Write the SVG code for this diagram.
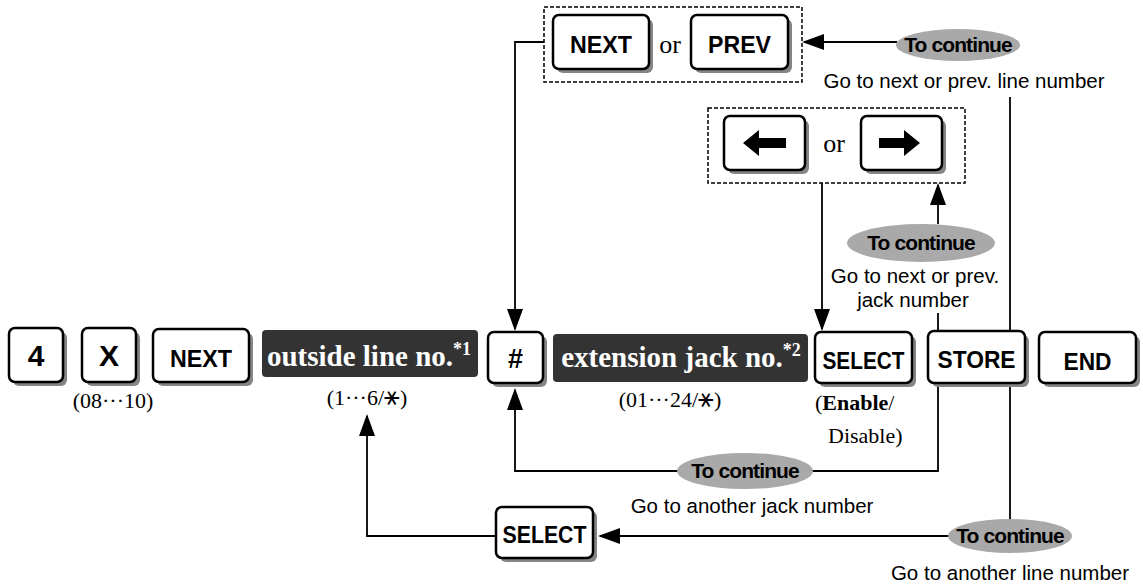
<svg xmlns="http://www.w3.org/2000/svg" width="1143" height="586" viewBox="0 0 1143 586">
<style>
.key{fill:#fff;stroke:#000;stroke-width:2.5}
.sh{fill:#858585}
.kl{font-family:"Liberation Sans",Arial,sans-serif;font-weight:bold;font-size:24px;text-anchor:middle;fill:#000}
.big{font-size:30px}
.hash{font-size:27px}
.dark{fill:#333}
.dl{font-family:"Liberation Serif","Times New Roman",serif;font-weight:bold;font-size:29px;fill:#fff;text-anchor:middle}
.sub{font-family:"Liberation Serif","Times New Roman","DejaVu Serif",serif;font-size:22px;fill:#000}
.or{font-family:"Liberation Serif","Times New Roman",serif;font-size:26px;fill:#000;text-anchor:middle}
.ell{fill:#a9a9a9}
.tc{font-family:"Liberation Sans",Arial,sans-serif;font-weight:bold;font-size:21px;letter-spacing:-0.9px;text-anchor:middle;fill:#000}
.go{font-family:"Liberation Sans",Arial,sans-serif;font-size:20.5px;fill:#000;text-anchor:middle}
.dash{fill:none;stroke:#000;stroke-width:1.5;stroke-dasharray:4 2}
.ln{fill:none;stroke:#000;stroke-width:1.8}
.sym{font-family:"DejaVu Sans",sans-serif;font-size:26px}
</style>
<defs>
<marker id="ah" markerUnits="userSpaceOnUse" markerWidth="22" markerHeight="16" refX="20" refY="8" orient="auto">
<path d="M0,0 L22,8 L0,16 Z" fill="#000"/>
</marker>
</defs>
<rect width="1143" height="586" fill="#fff"/>

<g id="connectors">
<polyline class="ln" points="544,42 515,42 515,329" marker-end="url(#ah)"/>
<line class="ln" x1="897" y1="42" x2="804" y2="42" marker-end="url(#ah)"/>
<line class="ln" x1="1010" y1="97" x2="1010" y2="536"/>
<line class="ln" x1="938" y1="313" x2="938" y2="331"/>
<line class="ln" x1="938" y1="224" x2="938" y2="185" marker-end="url(#ah)"/>
<line class="ln" x1="822" y1="183" x2="822" y2="329" marker-end="url(#ah)"/>
<polyline class="ln" points="938,383 938,471 515,471 515,390" marker-end="url(#ah)"/>
<line class="ln" x1="960" y1="536" x2="600" y2="536" marker-end="url(#ah)"/>
<polyline class="ln" points="496,536 367,536 367,416" marker-end="url(#ah)"/>
</g>

<g id="key-4">
<rect class="sh" x="13" y="332" width="54" height="54" rx="6"/>
<rect class="key" x="9" y="328" width="54" height="54" rx="6"/>
<text class="kl big" x="36" y="366">4</text>
</g>
<g id="key-x">
<rect class="sh" x="86" y="332" width="54" height="54" rx="6"/>
<rect class="key" x="82" y="328" width="54" height="54" rx="6"/>
<text class="kl big" x="109" y="366">X</text>
<text class="sub" x="113" y="408" text-anchor="middle">(08···10)</text>
</g>
<g id="key-next">
<rect class="sh" x="157" y="333" width="96" height="53" rx="6"/>
<rect class="key" x="153" y="329" width="96" height="53" rx="6"/>
<text class="kl" x="201" y="367" textLength="62" lengthAdjust="spacingAndGlyphs">NEXT</text>
</g>
<g id="outside-line">
<rect class="dark" x="262" y="330" width="216" height="47" rx="4"/>
<text class="dl" x="369" y="366">outside line no.<tspan font-size="18" dy="-11">*1</tspan></text>
<text class="sub" x="367" y="405" text-anchor="middle">(1···6/<tspan class="sym">⚹</tspan>)</text>
</g>
<g id="key-hash">
<rect class="sh" x="492" y="336" width="55" height="51" rx="6"/>
<rect class="key" x="488" y="332" width="55" height="51" rx="6"/>
<text class="kl hash" x="515.5" y="368">#</text>
</g>
<g id="extension-jack">
<rect class="dark" x="553" y="334" width="255" height="48" rx="4"/>
<text class="dl" x="681" y="367">extension jack no.<tspan font-size="18" dy="-11">*2</tspan></text>
<text class="sub" x="670" y="407" text-anchor="middle">(01···24/<tspan class="sym">⚹</tspan>)</text>
</g>
<g id="key-select">
<rect class="sh" x="819" y="336" width="97" height="51" rx="6"/>
<rect class="key" x="815" y="332" width="97" height="51" rx="6"/>
<text class="kl" x="863.5" y="369" textLength="82" lengthAdjust="spacingAndGlyphs">SELECT</text>
<text class="sub" x="815" y="410">(<tspan font-weight="bold">Enable</tspan>/</text>
<text class="sub" x="828" y="443">Disable)</text>
</g>
<g id="key-store">
<rect class="sh" x="932" y="335" width="97" height="52" rx="6"/>
<rect class="key" x="928" y="331" width="97" height="52" rx="6"/>
<text class="kl" x="976.5" y="368" textLength="78" lengthAdjust="spacingAndGlyphs">STORE</text>
</g>
<g id="key-end">
<rect class="sh" x="1043" y="336" width="97" height="51" rx="6"/>
<rect class="key" x="1039" y="332" width="97" height="51" rx="6"/>
<text class="kl" x="1087.5" y="370" textLength="48" lengthAdjust="spacingAndGlyphs">END</text>
</g>

<g id="next-prev-group">
<rect class="dash" x="544" y="7" width="258" height="75"/>
<rect class="sh" x="557" y="19" width="96" height="54" rx="6"/>
<rect class="key" x="553" y="15" width="96" height="54" rx="6"/>
<text class="kl" x="601" y="53" textLength="62" lengthAdjust="spacingAndGlyphs">NEXT</text>
<text class="or" x="670" y="53">or</text>
<rect class="sh" x="695" y="19" width="97" height="54" rx="6"/>
<rect class="key" x="691" y="15" width="97" height="54" rx="6"/>
<text class="kl" x="739.5" y="53" textLength="63" lengthAdjust="spacingAndGlyphs">PREV</text>
</g>

<g id="arrow-keys-group">
<rect class="dash" x="708" y="108" width="257" height="75"/>
<rect class="sh" x="728" y="120" width="81" height="54" rx="6"/>
<rect class="key" x="724" y="116" width="81" height="54" rx="6"/>
<polygon points="743,143 759,130 759,138 786,138 786,148 759,148 759,156" fill="#000"/>
<text class="or" x="834" y="152">or</text>
<rect class="sh" x="865" y="120" width="81" height="54" rx="6"/>
<rect class="key" x="861" y="116" width="81" height="54" rx="6"/>
<polygon points="920,143 904,130 904,138 879,138 879,148 904,148 904,156" fill="#000"/>
</g>

<g id="continue-line-top">
<ellipse class="ell" cx="958" cy="45" rx="62" ry="16"/>
<text class="tc" x="958" y="52">To continue</text>
<text class="go" x="964" y="88">Go to next or prev. line number</text>
</g>
<g id="continue-jack-arrows">
<ellipse class="ell" cx="921" cy="243" rx="74" ry="19"/>
<text class="tc" x="921" y="250">To continue</text>
<text class="go" x="915" y="283">Go to next or prev.</text>
<text class="go" x="913" y="307">jack number</text>
</g>
<g id="continue-jack">
<ellipse class="ell" cx="745" cy="471" rx="68" ry="18"/>
<text class="tc" x="745" y="478">To continue</text>
<text class="go" x="752" y="513">Go to another jack number</text>
</g>
<g id="key-select-bottom">
<rect class="sh" x="500" y="511" width="97" height="51" rx="6"/>
<rect class="key" x="496" y="507" width="97" height="51" rx="6"/>
<text class="kl" x="544.5" y="543" textLength="84" lengthAdjust="spacingAndGlyphs">SELECT</text>
</g>
<g id="continue-line">
<ellipse class="ell" cx="1010" cy="536" rx="62" ry="17"/>
<text class="tc" x="1010" y="543">To continue</text>
<text class="go" x="1010" y="580">Go to another line number</text>
</g>
</svg>
